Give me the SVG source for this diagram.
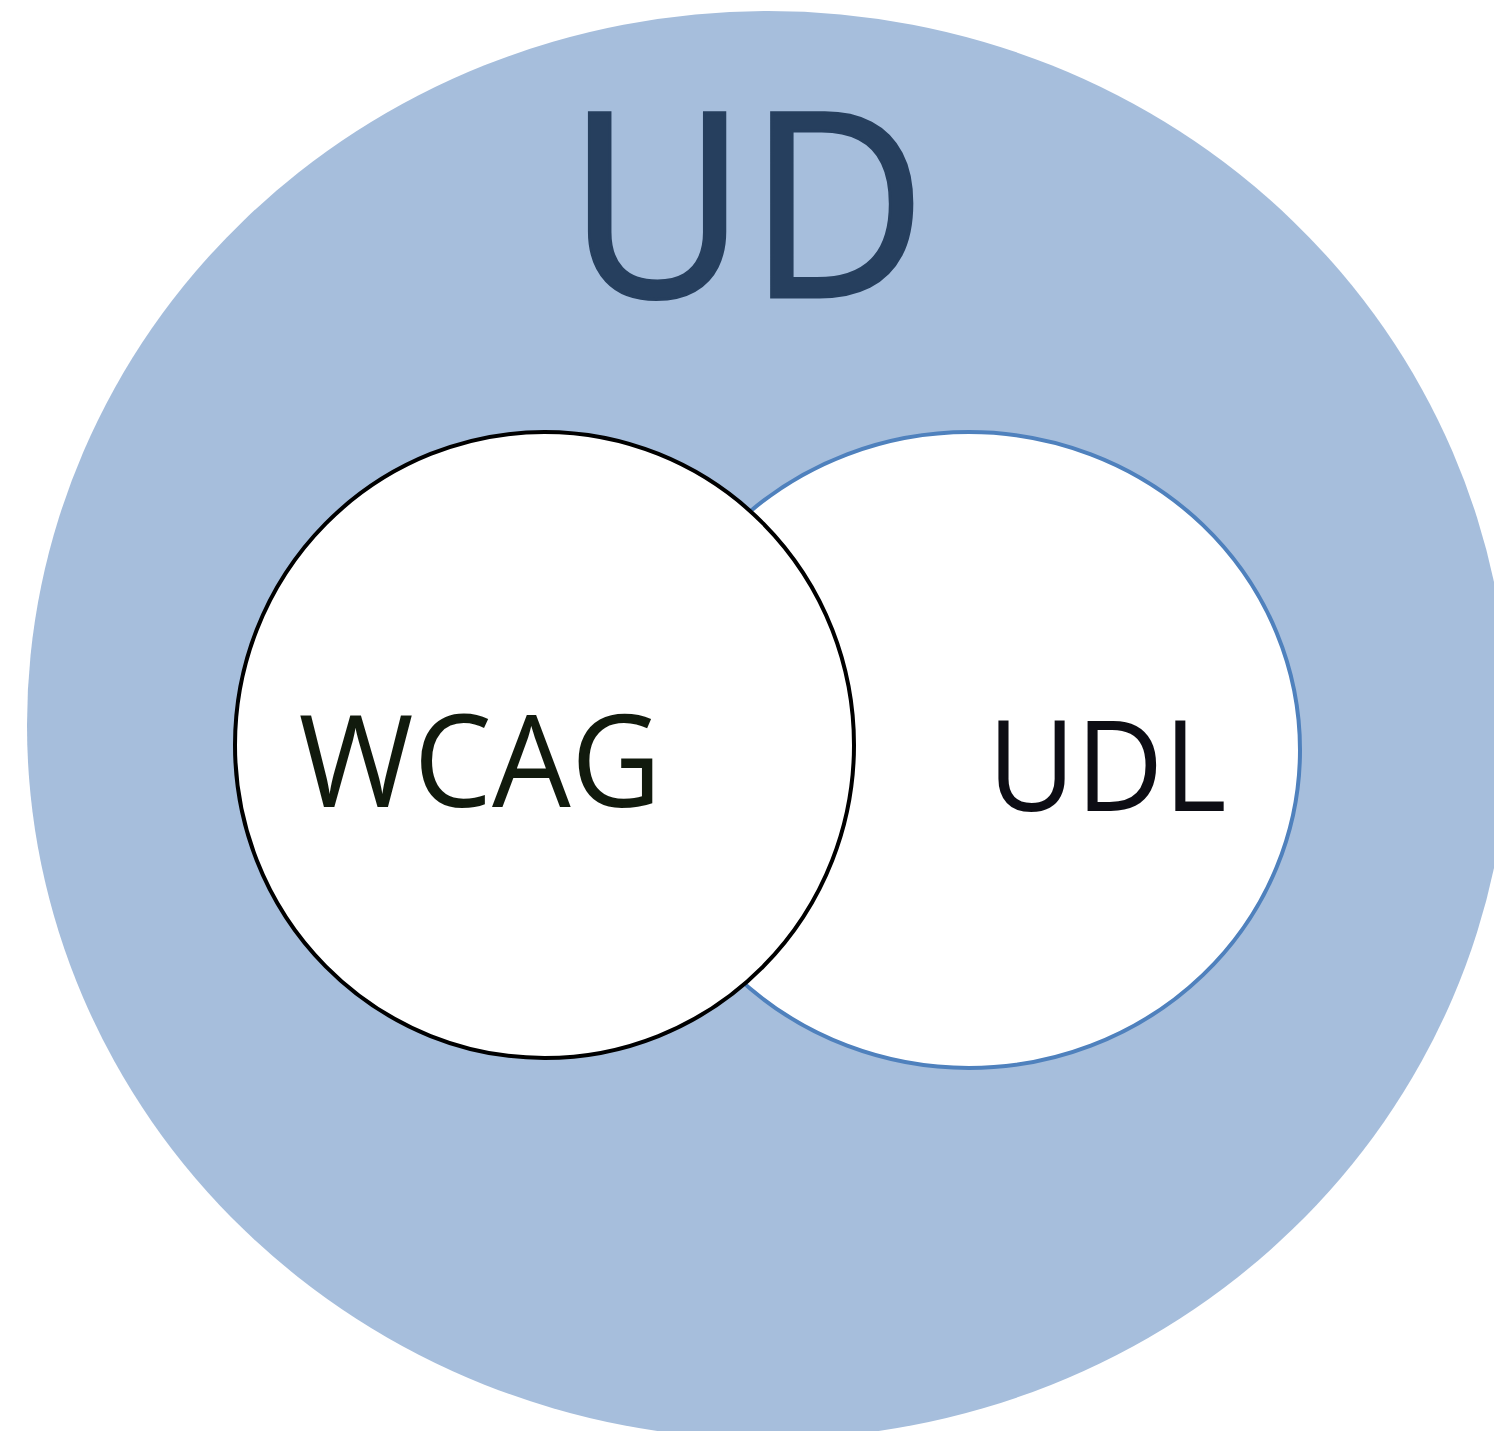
<svg xmlns="http://www.w3.org/2000/svg" width="1494" height="1431" viewBox="0 0 1494 1431">
<style>
.lbl{font-family:"Open Sans","Noto Sans","Liberation Sans",sans-serif;}
</style>
<rect width="1494" height="1431" fill="#ffffff"/>
<g id="ud">
<ellipse cx="768" cy="725" rx="741" ry="714" fill="#a6bedc"/>
<text class="lbl" x="747" y="297" font-size="258" fill="#263f5e" stroke="#263f5e" stroke-width="3" text-anchor="middle" textLength="360" lengthAdjust="spacingAndGlyphs">UD</text>
</g>
<g id="udl">
<ellipse cx="969" cy="750" rx="331" ry="318" fill="#ffffff" stroke="#4f81bd" stroke-width="4"/>
<text class="lbl" x="1107" y="811" font-size="126" fill="#0d0d14" text-anchor="middle" textLength="239" lengthAdjust="spacingAndGlyphs">UDL</text>
</g>
<g id="wcag">
<ellipse cx="544.5" cy="745" rx="309.5" ry="313" fill="#ffffff" stroke="#000000" stroke-width="4"/>
<text class="lbl" x="480" y="807" font-size="128" fill="#111a0d" text-anchor="middle" textLength="363" lengthAdjust="spacingAndGlyphs">WCAG</text>
</g>
<g id="connectors"></g>
</svg>
